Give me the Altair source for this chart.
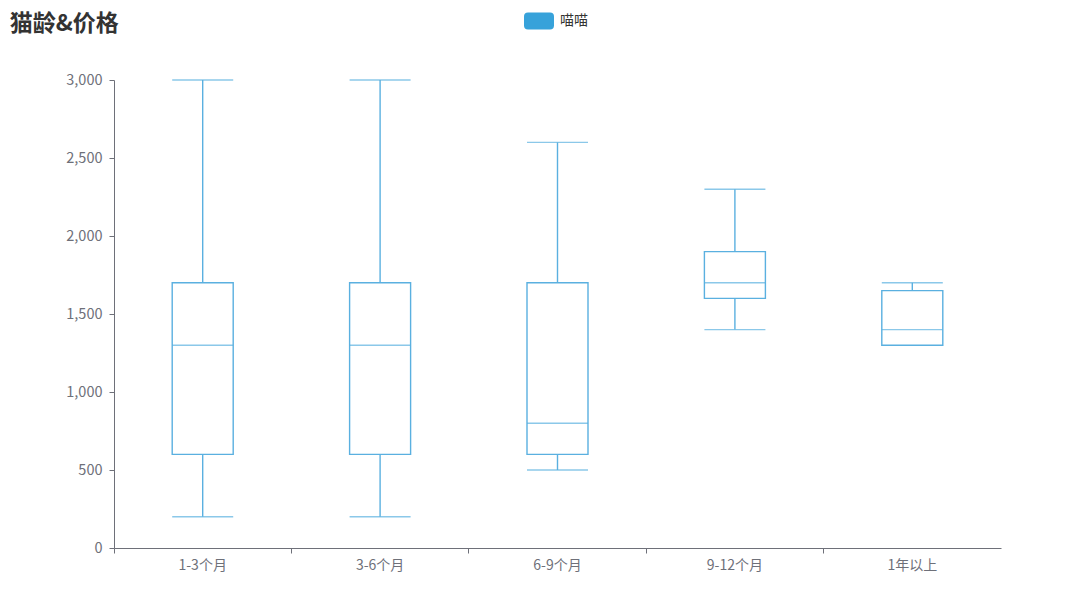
import altair as alt
import pandas as pd

cats = ["1-3个月", "3-6个月", "6-9个月", "9-12个月", "1年以上"]
mins = [200, 200, 500, 1400, 1300]
q1s = [600, 600, 600, 1600, 1300]
meds = [1300, 1300, 800, 1700, 1400]
q3s = [1700, 1700, 1700, 1900, 1650]
maxs = [3000, 3000, 2600, 2300, 1700]
series = "喵喵"

df = pd.DataFrame({"cat": cats, "min": mins, "q1": q1s, "med": meds,
                   "q3": q3s, "max": maxs, "s": [series] * len(cats)})

C = "#37a2da"
LC = "#5ab0e0"
FONT = "Noto Sans CJK SC"
W, H = 887, 468
BOX = 61
SW = 1.4

x = alt.X("cat:N", sort=cats, title=None,
          scale=alt.Scale(paddingInner=0, paddingOuter=0),
          axis=alt.Axis(labelAngle=0, bandPosition=0, tickSize=5,
                        domainColor="#6e7079", tickColor="#6e7079",
                        labelColor="#6e7079", labelFontSize=14, labelFont=FONT,
                        labelPadding=5, grid=False))
yscale = alt.Scale(domain=[0, 3000])
yaxis = alt.Axis(values=[0, 500, 1000, 1500, 2000, 2500, 3000], format=",.0f",
                 tickSize=5, domainColor="#6e7079", tickColor="#6e7079",
                 labelColor="#6e7079", labelFontSize=14.5, labelFont=FONT,
                 labelPadding=7, grid=False, title=None)

base = alt.Chart(df)

lower = base.mark_rule(color=LC, strokeWidth=SW).encode(
    x=x, y=alt.Y("min:Q", scale=yscale, axis=yaxis), y2="q1:Q")
upper = base.mark_rule(color=LC, strokeWidth=SW).encode(
    x=x, y=alt.Y("q3:Q", scale=yscale), y2="max:Q")
capmin = base.mark_tick(color=LC, size=BOX, thickness=SW).encode(
    x=x, y=alt.Y("min:Q", scale=yscale))
capmax = base.mark_tick(color=LC, size=BOX, thickness=SW).encode(
    x=x, y=alt.Y("max:Q", scale=yscale))

rpath = ("M-0.733,-0.567 L0.733,-0.567 Q1,-0.567 1,-0.3 L1,0.3 "
         "Q1,0.567 0.733,0.567 L-0.733,0.567 Q-1,0.567 -1,0.3 "
         "L-1,-0.3 Q-1,-0.567 -0.733,-0.567 Z")

box = base.mark_bar(size=BOX, fill="white", stroke=LC, strokeWidth=SW).encode(
    x=x, y=alt.Y("q1:Q", scale=yscale), y2="q3:Q")
med = base.mark_tick(color=LC, size=BOX, thickness=SW).encode(
    x=x, y=alt.Y("med:Q", scale=yscale))

legend_layer = base.mark_bar(size=0, strokeWidth=0).encode(
    x=x, y=alt.Y("q1:Q", scale=yscale), y2="q1:Q",
    color=alt.Color("s:N", scale=alt.Scale(domain=[series], range=[C]),
                    legend=alt.Legend(
                        title=None, orient="none", legendX=410, legendY=-74,
                        symbolType=rpath, symbolSize=900,
                        symbolStrokeWidth=0,
                        labelFont=FONT, labelFontSize=14, labelColor="#333333",
                        labelOffset=6)))

chart = alt.layer(lower, upper, capmin, capmax, box, med, legend_layer).properties(
    width=W, height=H,
    title=alt.TitleParams("猫龄&价格", anchor="start", dx=-56, offset=-30,
                          fontSize=23, fontWeight="bold", color="#333333",
                          font=FONT),
    autosize=alt.AutoSizeParams(type="none"),
    padding={"left": 106, "top": 72, "right": 71, "bottom": 35},
).configure_view(stroke=None)

chart.save("out.html", embed_options={"renderer": "svg", "actions": False})
